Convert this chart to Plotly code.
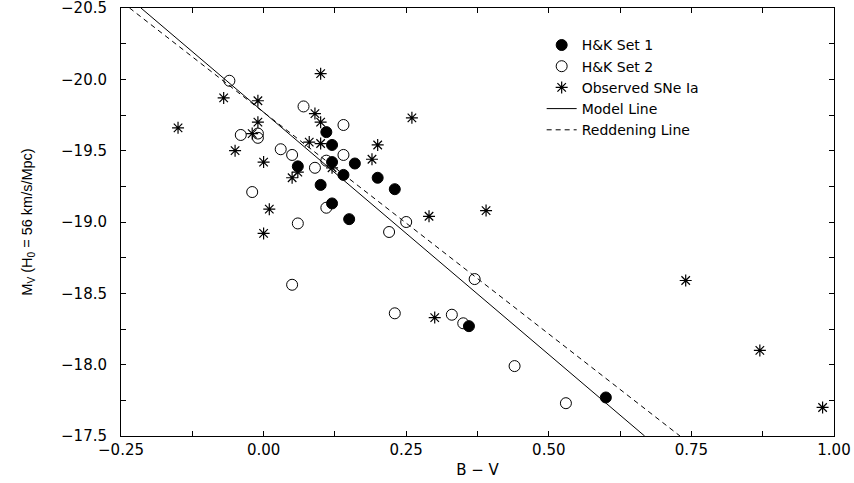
import plotly.graph_objects as go

# H&K Set 1 (filled circles)
set1_x = [0.11, 0.12, 0.12, 0.06, 0.14, 0.16, 0.20, 0.23, 0.10, 0.12, 0.15, 0.36, 0.60]
set1_y = [-19.63, -19.54, -19.42, -19.39, -19.33, -19.41, -19.31, -19.23, -19.26, -19.13, -19.02, -18.27, -17.77]

# H&K Set 2 (open circles)
set2_x = [-0.06, 0.07, 0.14, -0.04, -0.01, -0.01, 0.03, 0.05, 0.14, 0.11, 0.09, -0.02, 0.11,
          0.06, 0.05, 0.22, 0.23, 0.25, 0.37, 0.33, 0.35, 0.44, 0.53]
set2_y = [-19.99, -19.81, -19.68, -19.61, -19.62, -19.59, -19.51, -19.47, -19.47, -19.43, -19.38, -19.21, -19.10,
          -18.99, -18.56, -18.93, -18.36, -19.00, -18.60, -18.35, -18.29, -17.99, -17.73]

# Observed SNe Ia (asterisks)
obs_x = [0.10, -0.07, -0.01, 0.09, 0.10, -0.01, -0.15, -0.02, 0.08, 0.10, 0.20, -0.05, 0.19,
         0.00, 0.12, 0.06, 0.05, 0.01, 0.00, 0.26, 0.29, 0.39, 0.30, 0.74, 0.87, 0.98]
obs_y = [-20.04, -19.87, -19.85, -19.76, -19.70, -19.70, -19.66, -19.62, -19.56, -19.55, -19.54, -19.50, -19.44,
         -19.42, -19.38, -19.35, -19.31, -19.09, -18.92, -19.73, -19.04, -19.08, -18.33, -18.59, -18.10, -17.70]

# Lines (endpoints at the plot frame)
model_x = [-0.215, 0.668]
model_y = [-20.5, -17.5]
redden_x = [-0.235, 0.730]
redden_y = [-20.5, -17.5]

x_range = [-0.25, 1.0]
y_range = [-17.5, -20.5]

tick_family = "DejaVu Sans, Liberation Sans, Arial, sans-serif"
title_family = "Liberation Sans, Arial, Helvetica, sans-serif"

fig = go.Figure()
fig.add_trace(go.Scatter(x=set1_x, y=set1_y, mode="markers", name="H&K Set 1",
                         marker=dict(symbol="circle", size=11, color="black",
                                     line=dict(color="black", width=1))))
fig.add_trace(go.Scatter(x=set2_x, y=set2_y, mode="markers", name="H&K Set 2",
                         marker=dict(symbol="circle-open", size=11, color="black",
                                     line=dict(color="black", width=1))))
fig.add_trace(go.Scatter(x=obs_x, y=obs_y, mode="markers", name="Observed SNe Ia",
                         marker=dict(symbol="asterisk-open", size=10, color="black",
                                     line=dict(color="black", width=1.2))))
fig.add_trace(go.Scatter(x=model_x, y=model_y, mode="lines", name="Model Line",
                         line=dict(color="black", width=1)))
fig.add_trace(go.Scatter(x=redden_x, y=redden_y, mode="lines", name="Reddening Line",
                         line=dict(color="black", width=1, dash="5px,4px")))

axis_common = dict(
    showgrid=False, zeroline=False, showline=True, linecolor="black", linewidth=1,
    mirror="allticks", ticks="inside", ticklen=5, tickcolor="black", tickwidth=1,
    tickfont=dict(family=tick_family, size=15, color="black"),
    automargin=False, ticklabeloverflow="allow",
)

fig.update_xaxes(range=x_range, dtick=0.25, tick0=0, tickformat=".2f",
                 minor=dict(dtick=0.125, ticks="inside", ticklen=5, tickcolor="black"),
                 title=dict(text="B − V", font=dict(family=tick_family, size=15, color="black"),
                            standoff=6),
                 **axis_common)
fig.update_yaxes(range=y_range, dtick=0.5, tick0=0, tickformat=".1f",
                 minor=dict(dtick=0.25, ticks="inside", ticklen=5, tickcolor="black"),
                 ticklabelstandoff=10,
                 title=dict(text="M<sub>V</sub> (H<sub>0</sub> = 56 km/s/Mpc)",
                            font=dict(family=title_family, size=14.5, color="black"),
                            standoff=24),
                 **axis_common)

# mirrored frame axes (top / right) carrying the tick marks
fig.update_layout(
    xaxis2=dict(overlaying="x", side="top", anchor="y", range=x_range, dtick=0.25, tick0=0,
                showticklabels=False, showgrid=False, zeroline=False, showline=True,
                linecolor="black", linewidth=1, ticks="inside", ticklen=5, tickcolor="black",
                minor=dict(dtick=0.125, ticks="inside", ticklen=5, tickcolor="black"),
                automargin=False),
    yaxis2=dict(overlaying="y", side="right", anchor="x", range=y_range, dtick=0.5, tick0=0,
                showticklabels=False, showgrid=False, zeroline=False, showline=True,
                linecolor="black", linewidth=1, ticks="inside", ticklen=5, tickcolor="black",
                minor=dict(dtick=0.25, ticks="inside", ticklen=5, tickcolor="black"),
                automargin=False),
)

fig.update_layout(
    width=854, height=483,
    margin=dict(l=121, r=20, t=8, b=47),
    plot_bgcolor="white", paper_bgcolor="white",
    font=dict(family=title_family, size=14, color="black"),
    showlegend=True,
    legend=dict(x=0.59, y=0.95, xanchor="left", yanchor="top",
                bgcolor="rgba(0,0,0,0)", borderwidth=0,
                font=dict(family=tick_family, size=14, color="black"),
                tracegroupgap=0, itemwidth=30),
)

fig.write_html("out.html", config={"displayModeBar": False},
               post_script="document.body.style.margin='0px';document.body.style.overflow='hidden';")
